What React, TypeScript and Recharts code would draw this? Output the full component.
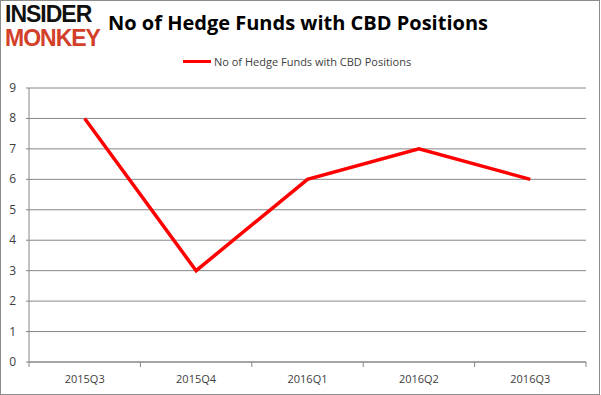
import React from "react";
import {
  LineChart,
  Line,
  XAxis,
  YAxis,
  CartesianGrid,
} from "recharts";

const quarters = ["2015Q3", "2015Q4", "2016Q1", "2016Q2", "2016Q3"];
const funds = [8, 3, 6, 7, 6];
const yTicks = [0, 1, 2, 3, 4, 5, 6, 7, 8, 9];
const seriesName = "No of Hedge Funds with CBD Positions";
const title = "No of Hedge Funds with CBD Positions";

const data = quarters.map((q, i) => ({ quarter: q, value: funds[i] }));

const W = 601;
const H = 395;
const LEFT = 29;
const RIGHT = 15;
const TOP = 88;
const BOTTOM = 33;
const bandW = (W - LEFT - RIGHT) / quarters.length;

const axisGray = "#868686";
const font = "'Open Sans', sans-serif";

function QuarterTick(props: any) {
  const { x, y, payload, index } = props;
  const last = index === quarters.length - 1;
  return (
    <g>
      <line x1={x - bandW / 2} x2={x - bandW / 2} y1={y - 8} y2={y - 3} stroke={axisGray} />
      {last && (
        <line x1={x + bandW / 2} x2={x + bandW / 2} y1={y - 8} y2={y - 3} stroke={axisGray} />
      )}
      <text x={x} y={y + 13} textAnchor="middle" fill="#404040" fontSize={11} fontFamily={font}>
        {payload.value}
      </text>
    </g>
  );
}

function ValueTick(props: any) {
  const { y, payload } = props;
  return (
    <text x={16} y={y + 4} textAnchor="end" fill="#404040" fontSize={12} fontFamily={font}>
      {payload.value}
    </text>
  );
}

const logoStyle: React.CSSProperties = {
  position: "absolute",
  left: 5,
  fontFamily: "'Liberation Sans', Arial, sans-serif",
  fontWeight: 900,
  fontSize: 23,
  lineHeight: "23px",
  letterSpacing: -1,
  whiteSpace: "nowrap",
};

export default function App() {
  return (
    <div style={{ position: "relative", width: W, height: H, background: "#fff" }}>
      <style>{"body{margin:0}"}</style>
      <div
        style={{
          position: "absolute",
          left: 0,
          top: 0,
          width: W - 3,
          height: H - 2,
          border: "1px solid #8c8c8c",
          pointerEvents: "none",
        }}
      />
      <div style={{ ...logoStyle, top: 3, color: "#111" }}>INSIDER</div>
      <div style={{ ...logoStyle, top: 27, color: "#d2402a" }}>MONKEY</div>
      <div
        style={{
          position: "absolute",
          left: 108,
          top: 9,
          fontFamily: font,
          fontWeight: 700,
          fontSize: 20,
          color: "#000",
          whiteSpace: "nowrap",
        }}
      >
        {title}
      </div>
      <div
        style={{
          position: "absolute",
          left: 183,
          top: 54,
          display: "flex",
          alignItems: "center",
          fontFamily: font,
          fontSize: 11,
          color: "#404040",
          whiteSpace: "nowrap",
        }}
      >
        <span style={{ display: "inline-block", width: 28, height: 3, background: "#ff0000", marginRight: 3 }} />
        {seriesName}
      </div>
      <LineChart
        width={W}
        height={H}
        data={data}
        margin={{ top: TOP, right: RIGHT, bottom: 0, left: 0 }}
      >
        <CartesianGrid vertical={false} stroke={axisGray} />
        <XAxis
          dataKey="quarter"
          scale="band"
          height={BOTTOM}
          tickLine={false}
          axisLine={{ stroke: axisGray }}
          tick={<QuarterTick />}
          interval={0}
        />
        <YAxis
          width={LEFT}
          domain={[0, 9]}
          ticks={yTicks}
          interval={0}
          tickSize={3}
          tickLine={{ stroke: axisGray }}
          axisLine={{ stroke: axisGray }}
          tick={<ValueTick />}
        />
        <Line
          type="linear"
          dataKey="value"
          name={seriesName}
          stroke="#ff0000"
          strokeWidth={3.5}
          dot={false}
          isAnimationActive={false}
        />
      </LineChart>
    </div>
  );
}
